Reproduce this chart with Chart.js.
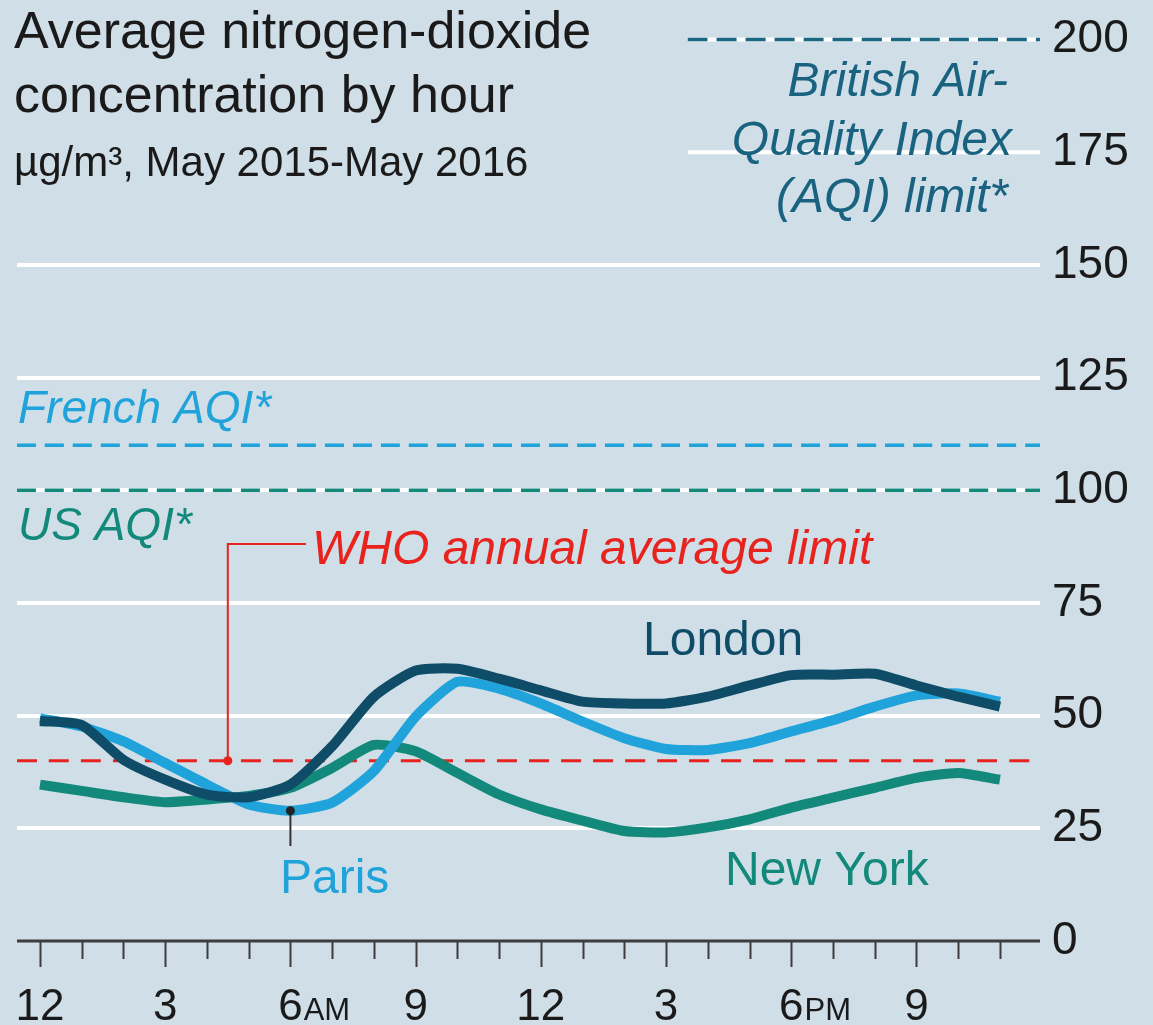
<!DOCTYPE html>
<html lang="en">
<head>
  <meta charset="UTF-8" />
  <title>Average nitrogen-dioxide concentration by hour</title>
  <script src="https://cdn.jsdelivr.net/npm/chart.js"></script>
  <style>
    html, body {
      margin: 0;
      padding: 0;
      background: #cfdee7;
    }
    canvas { display: block; }
  </style>
</head>
<body>
  <canvas id="no2Chart" width="1153" height="1025"></canvas>

  <script>
    // hours of the day, 0 = midnight
    const hours = [0, 1, 2, 3, 4, 5, 6, 7, 8, 9, 10, 11, 12, 13, 14, 15, 16, 17, 18, 19, 20, 21, 22, 23];
    const hourLabels = ['12', '', '', '3', '', '', '6', '', '', '9', '', '', '12', '', '', '3', '', '', '6', '', '', '9', '', ''];
    const hourSuffix = ['', '', '', '', '', '', 'AM', '', '', '', '', '', '', '', '', '', '', '', 'PM', '', '', '', '', ''];

    // µg/m3
    const london  = [48.8, 47.9, 40.2, 35.8, 32.5, 31.9, 34.7, 43.2, 54.2, 60.0, 60.4, 58.2, 55.6, 53.1, 52.7, 52.7, 54.2, 56.7, 59.0, 59.1, 59.3, 56.7, 54.2, 52.0];
    const paris   = [49.4, 47.6, 44.3, 39.5, 34.7, 30.3, 28.9, 30.7, 37.7, 49.8, 57.5, 56.0, 52.7, 48.7, 45.0, 42.6, 42.4, 43.9, 46.5, 49.0, 52.0, 54.5, 54.9, 53.1];
    const newYork = [34.7, 33.3, 31.9, 30.8, 31.4, 32.2, 34.0, 38.4, 43.5, 42.1, 37.3, 32.5, 29.2, 26.7, 24.4, 24.1, 25.2, 27.0, 29.6, 31.8, 34.0, 36.2, 37.3, 35.8];

    // limits
    const britishLimit = 200;
    const frenchLimit = 110;
    const usLimit = 100;
    const whoLimit = 40;

    const yTicks = [0, 25, 50, 75, 100, 125, 150, 175, 200];

    const X_MIN = -0.551, X_MAX = 23.96;
    const BRIT_FROM = 15.52;
    const FONT = '"Liberation Sans", Arial, sans-serif';

    const toPoints = arr => arr.map((v, i) => ({ x: hours[i], y: v }));
    const flatLine = (v, from, to) => [{ x: from, y: v }, { x: to, y: v }];

    // axis, tick marks, labels and annotations
    const decor = {
      id: 'decor',
      beforeDatasetsDraw(chart) {
        const { ctx, chartArea, scales: { x, y } } = chart;
        ctx.save();
        ctx.strokeStyle = '#ffffff';
        ctx.lineWidth = 4;
        [175, 200].forEach(v => {
          const py = y.getPixelForValue(v);
          ctx.beginPath();
          ctx.moveTo(x.getPixelForValue(BRIT_FROM), py);
          ctx.lineTo(chartArea.right, py);
          ctx.stroke();
        });
        ctx.restore();
      },
      afterDraw(chart) {
        const { ctx, chartArea, scales: { x, y } } = chart;
        const base = y.getPixelForValue(0);
        ctx.save();

        // x axis line and ticks
        ctx.strokeStyle = '#3c3c3c';
        ctx.lineWidth = 3;
        ctx.beginPath();
        ctx.moveTo(chartArea.left, base);
        ctx.lineTo(chartArea.right, base);
        ctx.stroke();
        ctx.lineWidth = 2;
        hours.forEach(h => {
          const px = Math.round(x.getPixelForValue(h)) + 0.5;
          ctx.beginPath();
          ctx.moveTo(px, base);
          ctx.lineTo(px, base + (h % 3 === 0 ? 26 : 18));
          ctx.stroke();
        });

        // x labels, AM/PM in small caps
        ctx.fillStyle = '#1a1a1a';
        ctx.textBaseline = 'alphabetic';
        hours.forEach((h, i) => {
          if (!hourLabels[i]) return;
          const px = x.getPixelForValue(h);
          ctx.font = '44px ' + FONT;
          ctx.textAlign = 'center';
          ctx.fillText(hourLabels[i], px, 1020);
          if (hourSuffix[i]) {
            const w = ctx.measureText(hourLabels[i]).width;
            ctx.font = '31px ' + FONT;
            ctx.textAlign = 'left';
            ctx.fillText(hourSuffix[i], px + w / 2 + 1, 1020);
          }
        });

        // title
        ctx.textAlign = 'left';
        ctx.fillStyle = '#1a1a1a';
        ctx.font = '52px ' + FONT;
        ctx.fillText('Average nitrogen-dioxide', 14, 48);
        ctx.fillText('concentration by hour', 14, 112);
        ctx.font = '42px ' + FONT;
        ctx.fillText('µg/m³, May 2015-May 2016', 14, 176);

        // limit labels
        ctx.font = 'italic 48px ' + FONT;
        ctx.fillStyle = '#1a6380';
        ctx.textAlign = 'right';
        ctx.fillText('British Air-', 1008, 96);
        ctx.fillText('Quality Index', 1012, 155);
        ctx.fillText('(AQI) limit*', 1008, 212);
        ctx.textAlign = 'left';
        ctx.font = 'italic 46px ' + FONT;
        ctx.fillStyle = '#1fa3da';
        ctx.fillText('French AQI*', 18, 423);
        ctx.fillStyle = '#13897b';
        ctx.fillText('US AQI*', 18, 540);
        ctx.fillStyle = '#e8231e';
        ctx.font = 'italic 48px ' + FONT;
        ctx.fillText('WHO annual average limit', 312, 564);

        // WHO pointer
        const wx = x.getPixelForValue(4.5);
        const wy = y.getPixelForValue(whoLimit);
        ctx.strokeStyle = '#e8231e';
        ctx.lineWidth = 2;
        ctx.beginPath();
        ctx.moveTo(wx, wy);
        ctx.lineTo(wx, 544);
        ctx.lineTo(306, 544);
        ctx.stroke();
        ctx.beginPath();
        ctx.arc(wx, wy, 4.5, 0, Math.PI * 2);
        ctx.fillStyle = '#e8231e';
        ctx.fill();

        // Paris pointer
        const px6 = x.getPixelForValue(6);
        const py6 = y.getPixelForValue(paris[6]);
        ctx.strokeStyle = '#333333';
        ctx.beginPath();
        ctx.moveTo(px6, py6);
        ctx.lineTo(px6, 846);
        ctx.stroke();
        ctx.beginPath();
        ctx.arc(px6, py6, 4.5, 0, Math.PI * 2);
        ctx.fillStyle = '#222222';
        ctx.fill();

        // city labels
        ctx.font = '48px ' + FONT;
        ctx.fillStyle = '#1fa3da';
        ctx.fillText('Paris', 280, 893);
        ctx.fillStyle = '#0e4c68';
        ctx.fillText('London', 643, 655);
        ctx.fillStyle = '#13897b';
        ctx.fillText('New York', 725, 885);

        ctx.restore();
      }
    };

    new Chart(document.getElementById('no2Chart').getContext('2d'), {
      type: 'line',
      data: {
        datasets: [
          { label: 'London', data: toPoints(london), borderColor: '#0e4c68', borderWidth: 10 },
          { label: 'Paris', data: toPoints(paris), borderColor: '#1fa3da', borderWidth: 10 },
          { label: 'New York', data: toPoints(newYork), borderColor: '#13897b', borderWidth: 10 },
          { label: 'WHO', data: flatLine(whoLimit, X_MIN, X_MAX), borderColor: '#e8231e', borderWidth: 3, borderDash: [20, 12] },
          { label: 'US AQI', data: flatLine(usLimit, X_MIN, X_MAX), borderColor: '#13897b', borderWidth: 3.5, borderDash: [19, 9] },
          { label: 'French AQI', data: flatLine(frenchLimit, X_MIN, X_MAX), borderColor: '#1fa3da', borderWidth: 3.5, borderDash: [19, 9] },
          { label: 'British AQI', data: flatLine(britishLimit, BRIT_FROM, X_MAX), borderColor: '#1a6784', borderWidth: 3.5, borderDash: [20, 9], clip: 10 }
        ]
      },
      options: {
        responsive: false,
        animation: false,
        events: [],
        elements: {
          point: { radius: 0 },
          line: { tension: 0.2, borderCapStyle: 'butt', borderJoinStyle: 'round' }
        },
        layout: { padding: { top: 33, left: 17, bottom: 84, right: 0 } },
        scales: {
          x: {
            type: 'linear',
            min: X_MIN,
            max: X_MAX,
            display: false
          },
          y: {
            position: 'right',
            min: 0,
            max: 200,
            afterBuildTicks: axis => { axis.ticks = yTicks.map(v => ({ value: v })); },
            afterFit: axis => { axis.width = 113; },
            border: { display: false },
            grid: {
              drawTicks: false,
              lineWidth: 4,
              color: c => (c.tick.value === 0 || c.tick.value > 150) ? 'rgba(0,0,0,0)' : '#ffffff'
            },
            ticks: {
              padding: 12,
              color: '#1a1a1a',
              font: { family: FONT, size: 46 }
            }
          }
        },
        plugins: {
          legend: { display: false },
          tooltip: { enabled: false }
        }
      },
      plugins: [decor]
    });
  </script>
</body>
</html>
